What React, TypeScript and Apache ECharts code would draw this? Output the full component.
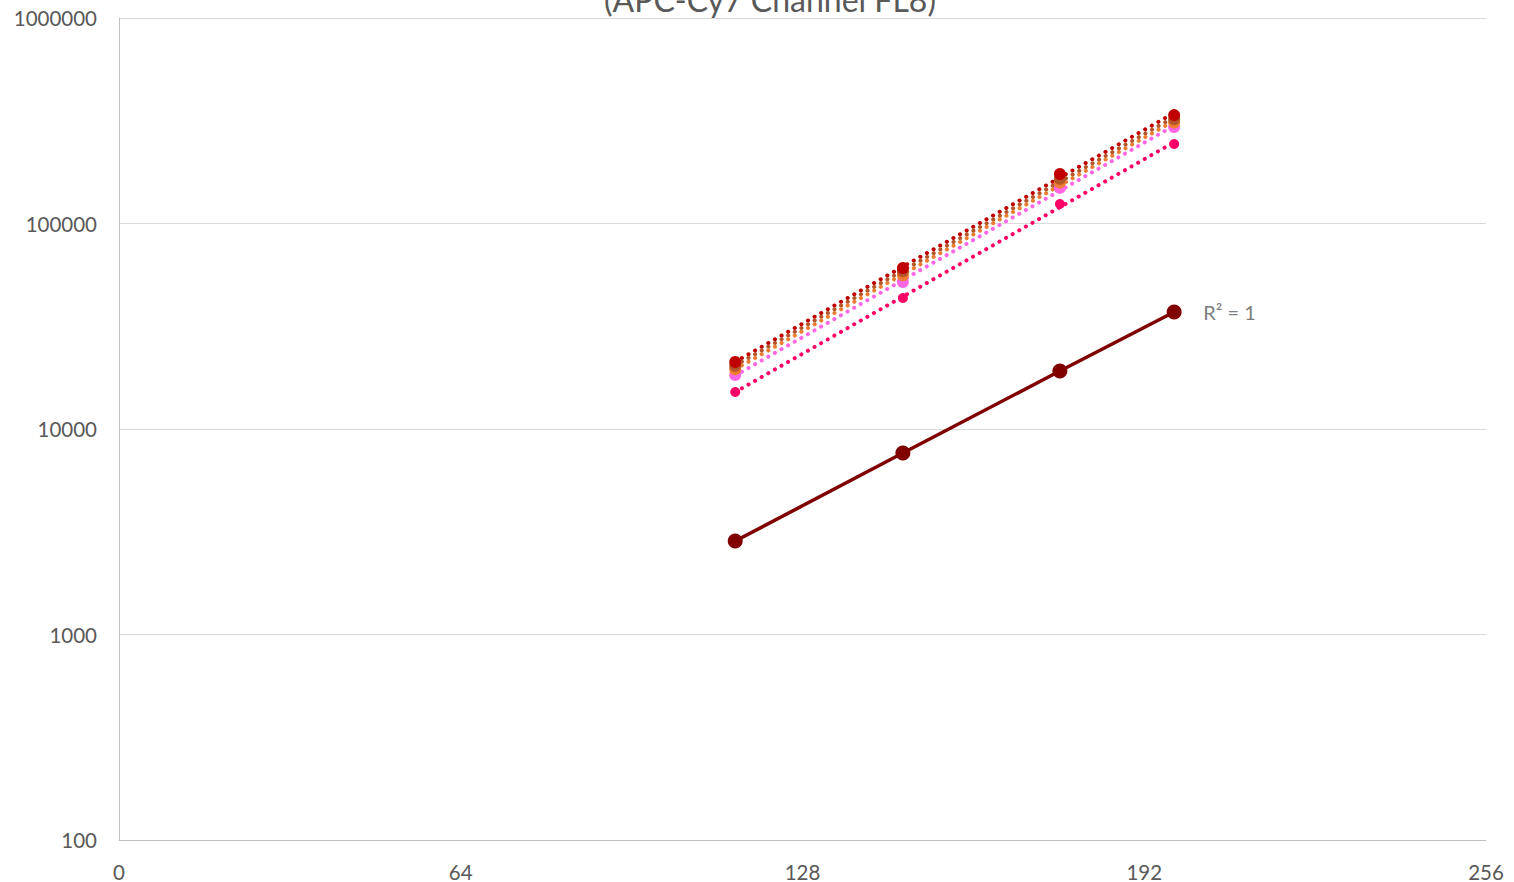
import React, { useEffect, useRef } from "react";
import * as echarts from "echarts";

const xValues = [115.4, 146.8, 176.2, 197.6];
const seriesNames = ["S1", "S2", "S3", "S4", "S5"];
const seriesColors = ["#C00000", "#B4552A", "#ED7D31", "#FF66E6", "#FF0066"];
const s1 = [21200, 60700, 174000, 337000];
const s2 = [20300, 58500, 165000, 322000];
const s3 = [19500, 56000, 158000, 310000];
const s4 = [18300, 51900, 149000, 295000];
const s5 = [15130, 43400, 124400, 243600];
const refValues = [2850, 7640, 19150, 37100];
const refColor = "#800000";
const yTicks = [100, 1000, 10000, 100000, 1000000];
const xTicks = [0, 64, 128, 192, 256];
const titleText = "(APC-Cy7 Channel FL8)";
const r2Text = "R² = 1";
const FONT = "Lato";

function expFit(xs: number[], ys: number[]) {
  const n = xs.length;
  const ly = ys.map((v) => Math.log(v));
  const mx = xs.reduce((a, b) => a + b, 0) / n;
  const my = ly.reduce((a, b) => a + b, 0) / n;
  let num = 0;
  let den = 0;
  for (let i = 0; i < n; i++) {
    num += (xs[i] - mx) * (ly[i] - my);
    den += (xs[i] - mx) * (xs[i] - mx);
  }
  const b = num / den;
  const a = my - b * mx;
  return (x: number) => Math.exp(a + b * x);
}

export default function App() {
  const ref = useRef<HTMLDivElement>(null);
  useEffect(() => {
    document.body.style.margin = "0";
    if (!ref.current) return;
    const chart = echarts.init(ref.current, null, { renderer: "svg" });
    const data = [s1, s2, s3, s4, s5];
    const series: any[] = [];
    data.forEach((vals, i) => {
      const f = expFit(xValues, vals);
      const x0 = xValues[0];
      const x1 = xValues[xValues.length - 1];
      series.push({
        type: "line",
        name: seriesNames[i] + " trend",
        data: [
          [x0, f(x0)],
          [x1, f(x1)],
        ],
        symbol: "none",
        silent: true,
        lineStyle: { color: seriesColors[i], width: 4, type: [0.1, 7.5], cap: "round" },
        z: 2 + i,
      });
    });
    data.forEach((vals, i) => {
      series.push({
        type: "scatter",
        name: seriesNames[i],
        data: vals.map((v, j) => [xValues[j], v]),
        symbol: "circle",
        symbolSize: i === 4 ? 10 : 12,
        itemStyle: { color: seriesColors[i], opacity: 1 },
        z: 10 - i,
      });
    });
    series.push({
      type: "line",
      name: "ref",
      data: refValues.map((v, j) => [xValues[j], v]),
      symbol: "circle",
      symbolSize: 15,
      showSymbol: true,
      lineStyle: { color: refColor, width: 3.5 },
      itemStyle: { color: refColor },
      z: 20,
    });
    const fRef = expFit(xValues, refValues);
    const lastX = xValues[xValues.length - 1];
    series.push({
      type: "scatter",
      name: "r2",
      data: [[lastX, fRef(lastX)]],
      symbolSize: 0,
      silent: true,
      label: {
        show: true,
        formatter: r2Text,
        position: "right",
        distance: 29,
        color: "#595959",
        fontSize: 20,
        fontFamily: FONT,
      },
      z: 21,
    });

    chart.setOption({
      animation: false,
      backgroundColor: "#ffffff",
      title: {
        text: titleText,
        left: 765,
        textAlign: "center",
        top: -22,
        textStyle: { fontSize: 32, fontWeight: "normal", color: "#595959", fontFamily: FONT },
      },
      grid: { left: 119, right: 28, top: 18, bottom: 42, containLabel: false },
      xAxis: {
        type: "value",
        min: xTicks[0],
        max: xTicks[xTicks.length - 1],
        interval: 64,
        axisLine: { show: true, lineStyle: { color: "#BFBFBF", width: 1 } },
        axisTick: { show: false },
        splitLine: { show: false },
        axisLabel: { color: "#595959", fontSize: 20.5, fontFamily: FONT, margin: 21 },
      },
      yAxis: {
        type: "log",
        logBase: 10,
        min: yTicks[0],
        max: yTicks[yTicks.length - 1],
        axisLine: { show: true, lineStyle: { color: "#BFBFBF", width: 1 } },
        axisTick: { show: false },
        splitLine: { show: true, lineStyle: { color: "#D9D9D9", width: 1 } },
        minorTick: { show: false },
        axisLabel: {
          color: "#595959",
          fontSize: 20.5,
          fontFamily: FONT,
          margin: 22,
          formatter: (v: number) => String(Math.round(v)),
        },
      },
      series,
    });
    return () => chart.dispose();
  }, []);
  return <div ref={ref} style={{ position: "absolute", left: 0, top: 0, width: 1514, height: 882 }} />;
}
